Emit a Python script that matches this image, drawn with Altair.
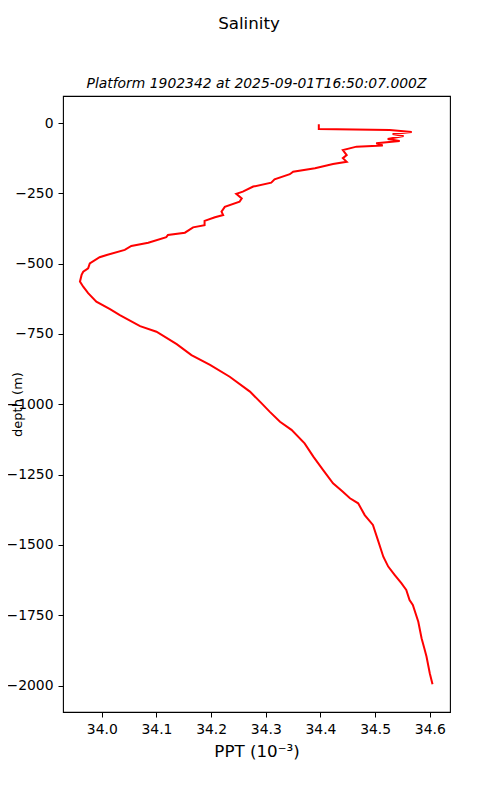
import altair as alt
import pandas as pd

salinity = [34.397, 34.397, 34.527, 34.567, 34.532, 34.552, 34.523, 34.545, 34.502, 34.514,
            34.466, 34.441, 34.448, 34.441, 34.448, 34.423, 34.390, 34.350, 34.344, 34.316,
            34.310, 34.277, 34.258, 34.246, 34.256, 34.252, 34.225, 34.219, 34.222, 34.207,
            34.188, 34.188, 34.167, 34.152, 34.121, 34.118, 34.085, 34.054, 34.042, 34.009,
            33.996, 33.978, 33.975, 33.966, 33.963, 33.960, 33.966, 33.975, 33.990, 34.015,
            34.033, 34.070, 34.100, 34.137, 34.164, 34.198, 34.234, 34.271, 34.292, 34.307,
            34.326, 34.347, 34.371, 34.387, 34.405, 34.423, 34.441, 34.454, 34.469, 34.481,
            34.496, 34.505, 34.515, 34.524, 34.536, 34.548, 34.557, 34.563, 34.569, 34.579,
            34.585, 34.590, 34.594, 34.600, 34.605]
depth = [-4, -21, -25, -32, -39, -46, -57, -64, -72, -80,
         -84, -96, -114, -125, -138, -146, -161, -173, -182, -200,
         -212, -226, -244, -252, -268, -280, -298, -315, -327, -335,
         -348, -363, -371, -390, -398, -406, -426, -437, -451, -469,
         -477, -499, -517, -529, -540, -564, -582, -605, -635, -662,
         -683, -722, -742, -786, -825, -860, -902, -955, -996, -1026,
         -1062, -1091, -1139, -1186, -1234, -1281, -1311, -1334, -1352, -1394,
         -1429, -1482, -1542, -1577, -1607, -1636, -1660, -1696, -1713, -1773,
         -1832, -1867, -1897, -1956, -1995]

x_ticks = [34.0, 34.1, 34.2, 34.3, 34.4, 34.5, 34.6]
y_ticks = [0, -250, -500, -750, -1000, -1250, -1500, -1750, -2000]

suptitle = "Salinity"
subtitle = "Platform 1902342 at 2025-09-01T16:50:07.000Z"
x_title = "PPT (10\u207b\u00b3)"
y_title = "depth (m)"

df = pd.DataFrame({"i": list(range(len(depth))), "salinity": salinity, "depth": depth})

line = alt.Chart(df).mark_line(color="red", strokeWidth=2).encode(
    x=alt.X("salinity:Q",
            scale=alt.Scale(domain=[33.929, 34.637], nice=False, zero=False),
            axis=alt.Axis(values=x_ticks, format=".1f", title=x_title, grid=False,
                          domain=False, tickSize=5, tickColor="black", labelPadding=5,
                          labelFontSize=13.9, labelColor="black", labelBaseline="top",
                          titleFontSize=16.7, titleFontWeight="normal", titleColor="black",
                          titleX=193.5, titleY=44, titleBaseline="alphabetic", titleAlign="center")),
    y=alt.Y("depth:Q",
            scale=alt.Scale(domain=[-2094, 96], nice=False, zero=False),
            axis=alt.Axis(values=y_ticks, format="d", title=y_title, grid=False,
                          domain=False, tickSize=5, tickColor="black", labelPadding=5,
                          labelFontSize=13.9, labelColor="black",
                          titleFontSize=13, titleFontWeight="normal", titleColor="black",
                          titleX=-42, titleY=308, titleAngle=270, titleAlign="center",
                          titleBaseline="alphabetic")),
    order="i:Q",
)

sup = alt.Chart(pd.DataFrame({"t": [suptitle]})).mark_text(
    fontSize=16.7, color="black", align="center", baseline="alphabetic"
).encode(text="t:N", x=alt.value(186), y=alt.value(-67))

sub = alt.Chart(pd.DataFrame({"t": [subtitle]})).mark_text(
    fontSize=13.9, fontStyle="italic", color="black", align="center", baseline="alphabetic"
).encode(text="t:N", x=alt.value(193.5), y=alt.value(-8))

chart = alt.layer(line, sup, sub).properties(
    width=387,
    height=616,
    autosize=alt.AutoSizeParams(type="none"),
    padding={"left": 55, "top": 88, "right": 42, "bottom": 80},
).configure(font="DejaVu Sans").configure_view(stroke="black", strokeWidth=1.1)

chart.save("out.html", embed_options={"renderer": "svg", "actions": False})
